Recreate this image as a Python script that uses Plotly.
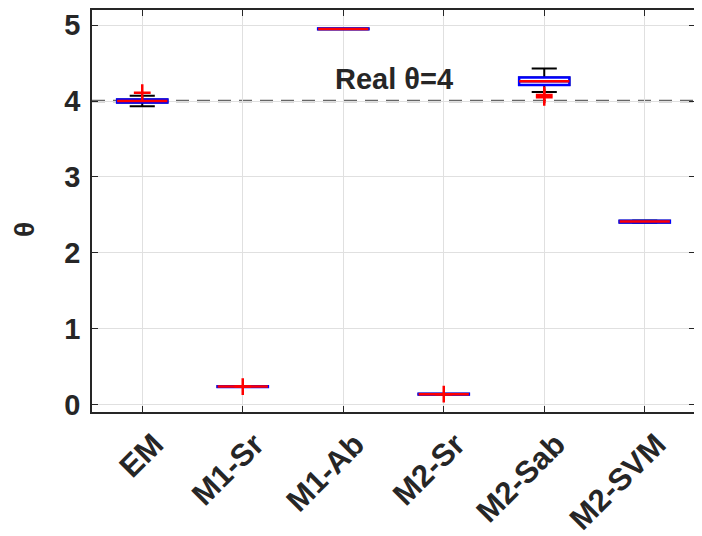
import plotly.graph_objects as go

categories = ["EM", "M1-Sr", "M1-Ab", "M2-Sr", "M2-Sab", "M2-SVM"]
positions = [1, 2, 3, 4, 5, 6]
q1 = [3.98, 0.23, 4.945, 0.13, 4.21, 2.40]
median = [4.00, 0.235, 4.95, 0.135, 4.26, 2.41]
q3 = [4.02, 0.24, 4.955, 0.14, 4.31, 2.42]
lower_whisker = [3.93, 0.23, 4.945, 0.13, 4.12, 2.395]
upper_whisker = [4.07, 0.24, 4.955, 0.14, 4.43, 2.425]
outlier_x = ["EM", "M1-Sr", "M2-Sr", "M2-Sab", "M2-Sab"]
outlier_y = [4.11, 0.235, 0.135, 4.08, 4.05]
real_theta = 4
yticks = [0, 1, 2, 3, 4, 5]

box_w = 0.5
pos_of = dict(zip(categories, positions))
FONT = "Liberation Sans"

fig = go.Figure()
# black whiskers (full box, hidden under blue box)
fig.add_trace(go.Box(
    x=positions, q1=q1, median=median, q3=q3,
    lowerfence=lower_whisker, upperfence=upper_whisker,
    width=box_w, whiskerwidth=0.5,
    line=dict(color="black", width=2), fillcolor="rgba(0,0,0,0)",
    boxpoints=False, showlegend=False, hoverinfo="skip",
))
# blue box
fig.add_trace(go.Box(
    x=positions, q1=q1, median=median, q3=q3,
    lowerfence=q1, upperfence=q3,
    width=box_w, whiskerwidth=0,
    line=dict(color="#0000ff", width=2.5), fillcolor="white",
    boxpoints=False, showlegend=False, hoverinfo="skip",
))
# red medians
mx, my = [], []
for p, m in zip(positions, median):
    mx += [p - box_w / 2, p + box_w / 2, None]
    my += [m, m, None]
fig.add_trace(go.Scatter(x=mx, y=my, mode="lines",
                         line=dict(color="#ff0000", width=2.5),
                         showlegend=False, hoverinfo="skip"))
# outliers
fig.add_trace(go.Scatter(
    x=[pos_of[c] for c in outlier_x], y=outlier_y, mode="markers",
    marker=dict(symbol="cross-thin", size=12,
                line=dict(color="#ff0000", width=2.5)),
    showlegend=False, hoverinfo="skip"))

fig.add_shape(type="line", xref="paper", yref="y", x0=0, x1=1,
              y0=real_theta, y1=real_theta,
              line=dict(color="#666666", width=2.5, dash="13px,8px"),
              layer="below")

fig.add_annotation(x=3.5, y=4.29, xref="x", yref="y",
                   text=f"<b>Real θ={real_theta}</b>", showarrow=False,
                   font=dict(size=29, color="#262626", family=FONT))

fig.add_annotation(x=0, y=0.5, xref="paper", yref="paper", xshift=-68,
                   yshift=-19, xanchor="center", yanchor="middle",
                   borderpad=0,
                   text="<b>θ</b>", showarrow=False, textangle=-90,
                   font=dict(size=28, color="#262626", family=FONT))

axis_common = dict(showline=True, linecolor="#262626", linewidth=1.5,
                   mirror="ticks", ticks="inside", ticklen=6,
                   tickcolor="#262626", showgrid=True,
                   gridcolor="#e0e0e0", gridwidth=1, zeroline=False,
                   automargin=False,
                   tickfont=dict(size=29, color="#262626", family=FONT))

fig.update_layout(
    width=694, height=528,
    margin=dict(l=84, r=7, t=2, b=124),
    paper_bgcolor="white", plot_bgcolor="white",
    boxmode="overlay",
    font=dict(family=FONT, color="#262626"),
    xaxis=dict(range=[0.5, 6.5], tickvals=positions,
               ticktext=[f"<b>{c}</b>" for c in categories],
               tickangle=-45, ticklabelshift=12, ticklabelstandoff=0,
               tickfont=dict(size=31, color="#262626", family=FONT),
               **{k: v for k, v in axis_common.items() if k != "tickfont"}),
    yaxis=dict(range=[-0.1, 5.2], tickvals=yticks,
               ticktext=[f"<b>{t}</b>" for t in yticks],
               ticklabelstandoff=4,
               **axis_common),
)

fig.write_html("out.html")
